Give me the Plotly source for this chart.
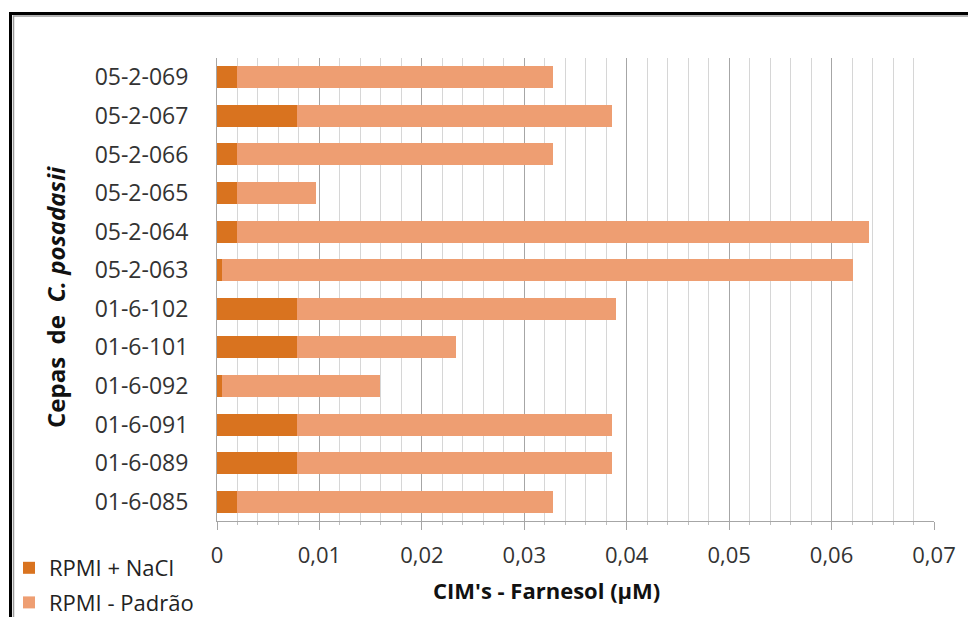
import plotly.graph_objects as go

categories = ["01-6-085", "01-6-089", "01-6-091", "01-6-092", "01-6-101", "01-6-102",
              "05-2-063", "05-2-064", "05-2-065", "05-2-066", "05-2-067", "05-2-069"]
rpmi_nacl = [0.002, 0.0078, 0.0078, 0.0005, 0.0078, 0.0078,
             0.0005, 0.002, 0.002, 0.002, 0.0078, 0.002]
rpmi_padrao = [0.0308, 0.0308, 0.0308, 0.0154, 0.0155, 0.0312,
               0.0616, 0.0617, 0.0077, 0.0308, 0.0308, 0.0308]
x_tickvals = [0, 0.01, 0.02, 0.03, 0.04, 0.05, 0.06, 0.07]
x_ticktext = ["0", "0,01", "0,02", "0,03", "0,04", "0,05", "0,06", "0,07"]

FONT = "'Open Sans', Lato, sans-serif"

fig = go.Figure()
fig.add_trace(go.Bar(y=categories, x=rpmi_nacl, orientation="h", name="RPMI + NaCl",
                     legendgroup="a",
                     marker=dict(color="#D9731F", line=dict(width=0))))
fig.add_trace(go.Bar(y=categories, x=rpmi_padrao, orientation="h", name="RPMI - Padrão",
                     legendgroup="b",
                     marker=dict(color="#EE9E72", line=dict(width=0))))

# page body has an 8px margin; positions below are screen pixels
OFF = 8
W, H = 976, 617
SL, ST, SR, SB = 217, 58, 934, 521  # plot area on screen
L, T = SL - OFF, ST - OFF
R, B = W - (SR - OFF), H - (SB - OFF)
pw, ph = W - L - R, H - T - B

def px(x):
    return (x - SL) / pw

def py(y):
    return (SB - y) / ph

fig.update_layout(
    width=W, height=H,
    margin=dict(l=L, r=R, t=T, b=B, autoexpand=False),
    barmode="stack", bargap=0.43,
    plot_bgcolor="white", paper_bgcolor="white",
    font=dict(family=FONT, size=22, color="#333333"),
    showlegend=True,
    legend=dict(x=px(9), y=py(547), xanchor="left", yanchor="top",
                traceorder="grouped", tracegroupgap=3,
                font=dict(size=22, color="#222222"),
                bgcolor="rgba(0,0,0,0)", itemwidth=30),
    xaxis=dict(range=[0, 0.07], tickvals=x_tickvals, ticktext=x_ticktext,
               showgrid=True, gridcolor="#A6A6A6", gridwidth=1,
               showline=True, linecolor="#A6A6A6", linewidth=1,
               ticks="outside", ticklen=8, tickcolor="#A6A6A6",
               ticklabelstandoff=7, automargin=False,
               tickfont=dict(size=22, color="#333333"), zeroline=False,
               minor=dict(dtick=0.002, showgrid=True, gridcolor="#D6D6D6", gridwidth=1,
                          ticks="outside", ticklen=3, tickcolor="#BFBFBF")),
    yaxis=dict(showgrid=False, showline=True, linecolor="#A6A6A6", linewidth=1,
               ticks="", ticklabelstandoff=23, automargin=False,
               tickfont=dict(size=23, color="#333333"),
               range=[-0.5, len(categories) - 0.5]),
    annotations=[
        dict(text="<b>Cepas\u00a0 de\u00a0 <i>C. posadasii</i></b>", textangle=-90,
             x=px(55), y=py(297), xref="paper", yref="paper",
             xanchor="center", yanchor="middle",
             showarrow=False, font=dict(size=24, color="#111111")),
        dict(text="<b>CIM's - Farnesol (µM)</b>",
             x=px(546), y=py(590), xref="paper", yref="paper",
             xanchor="center", yanchor="middle",
             showarrow=False, font=dict(size=22, color="#111111")),
    ],
    shapes=[
        dict(type="rect", xref="paper", yref="paper",
             x0=px(10.5), x1=px(1000), y0=py(640), y1=py(13.5),
             line=dict(color="black", width=3)),
        dict(type="rect", xref="paper", yref="paper",
             x0=px(13.5), x1=px(1000), y0=py(640), y1=py(16),
             line=dict(color="#9A9A9A", width=1.5)),
    ],
)

fig.write_html("out.html")
